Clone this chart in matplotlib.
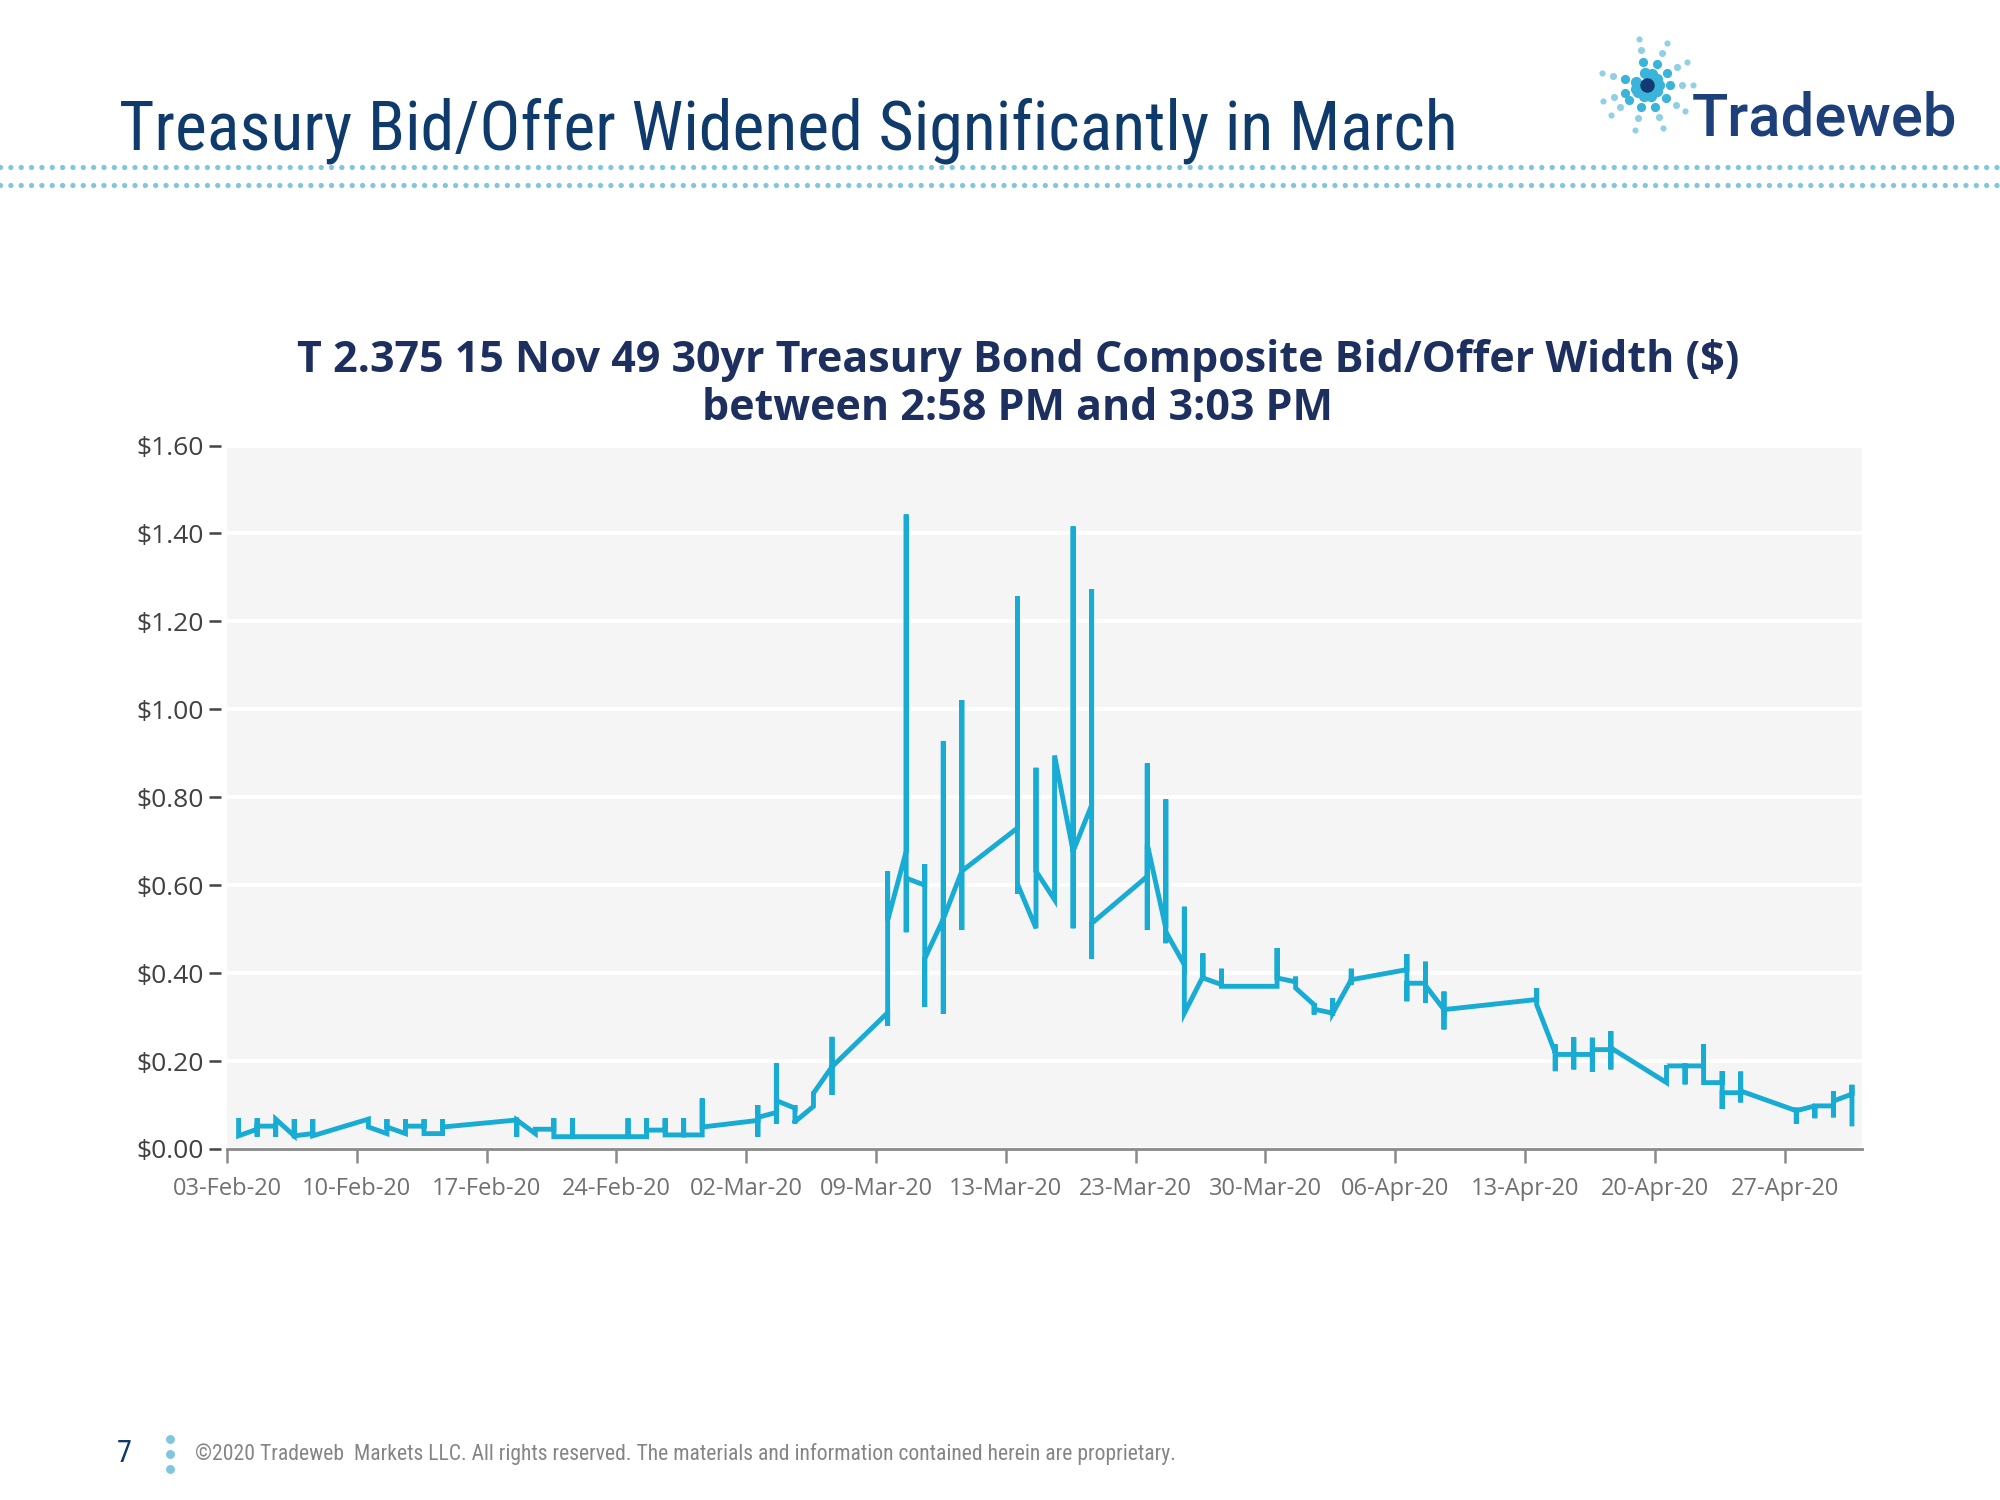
import matplotlib
matplotlib.use('Agg')
import matplotlib.pyplot as plt
import matplotlib.dates as mdates
from matplotlib.lines import Line2D
from matplotlib import font_manager
import numpy as np
import pandas as pd

# T 2.375 15 Nov 49 composite bid/offer width ($), quotes seen between 2:58 and 3:03 PM
# each trading day holds the widths in the order the line passes through them
feb_days = ['2020-02-03', '2020-02-04', '2020-02-05', '2020-02-06', '2020-02-07',
            '2020-02-10', '2020-02-11', '2020-02-12', '2020-02-13', '2020-02-14',
            '2020-02-18', '2020-02-19', '2020-02-20', '2020-02-21',
            '2020-02-24', '2020-02-25', '2020-02-26', '2020-02-27', '2020-02-28']
feb_widths = [[0.065, 0.03], [0.045, 0.07, 0.028, 0.052], [0.052, 0.028, 0.068],
              [0.03, 0.068, 0.03], [0.035, 0.068, 0.03],
              [0.068, 0.05], [0.035, 0.068, 0.05], [0.035, 0.068, 0.052],
              [0.052, 0.068, 0.035], [0.035, 0.068, 0.05],
              [0.066, 0.028, 0.066], [0.035, 0.045], [0.045, 0.07, 0.028],
              [0.028, 0.07, 0.028],
              [0.028, 0.07, 0.028], [0.028, 0.07, 0.043], [0.043, 0.07, 0.032],
              [0.032, 0.07, 0.032], [0.032, 0.115, 0.05]]

mar_days = ['2020-03-02', '2020-03-03', '2020-03-04', '2020-03-05', '2020-03-06',
            '2020-03-09', '2020-03-10', '2020-03-11', '2020-03-12', '2020-03-13',
            '2020-03-16', '2020-03-17', '2020-03-18', '2020-03-19', '2020-03-20',
            '2020-03-23', '2020-03-24', '2020-03-25', '2020-03-26', '2020-03-27',
            '2020-03-30', '2020-03-31']
mar_widths = [[0.065, 0.1, 0.028, 0.072], [0.083, 0.195, 0.058, 0.11],
              [0.093, 0.1, 0.058, 0.062], [0.097, 0.13, 0.127],
              [0.187, 0.255, 0.123, 0.187],
              [0.31, 0.28, 0.632, 0.52], [0.677, 1.443, 0.493, 0.616],
              [0.6, 0.648, 0.323, 0.433], [0.523, 0.928, 0.307, 0.523],
              [0.632, 1.021, 0.498, 0.632],
              [0.73, 1.257, 0.58, 0.603], [0.502, 0.867, 0.632], [0.567, 0.895],
              [0.677, 1.416, 0.502, 0.677], [0.782, 1.273, 0.433, 0.513],
              [0.62, 0.877, 0.498, 0.693], [0.502, 0.795, 0.468, 0.494],
              [0.419, 0.551, 0.309], [0.392, 0.445, 0.389], [0.374, 0.41, 0.37],
              [0.37, 0.457, 0.37, 0.389], [0.38, 0.392, 0.366]]

apr_days = ['2020-04-01', '2020-04-02', '2020-04-03',
            '2020-04-06', '2020-04-07', '2020-04-08',
            '2020-04-13', '2020-04-14', '2020-04-15', '2020-04-16', '2020-04-17',
            '2020-04-20', '2020-04-21', '2020-04-22', '2020-04-23', '2020-04-24',
            '2020-04-27', '2020-04-28', '2020-04-29', '2020-04-30']
apr_widths = [[0.328, 0.332, 0.306, 0.318], [0.309, 0.343, 0.309],
              [0.385, 0.41, 0.374, 0.385],
              [0.408, 0.443, 0.336, 0.377], [0.377, 0.426, 0.332, 0.372],
              [0.317, 0.358, 0.272, 0.317],
              [0.34, 0.366, 0.332, 0.328], [0.219, 0.238, 0.177, 0.215],
              [0.215, 0.254, 0.181, 0.215], [0.215, 0.253, 0.176, 0.226],
              [0.226, 0.268, 0.181, 0.23],
              [0.151, 0.191, 0.189], [0.189, 0.147, 0.189], [0.189, 0.238, 0.151],
              [0.151, 0.177, 0.091, 0.128], [0.128, 0.176, 0.106, 0.132],
              [0.087, 0.094, 0.057, 0.087], [0.098, 0.1, 0.07, 0.098],
              [0.098, 0.131, 0.072, 0.109], [0.125, 0.146, 0.057]]

tick_days = ['2020-02-03', '2020-02-10', '2020-02-17', '2020-02-24', '2020-03-02',
             '2020-03-09', '2020-03-16', '2020-03-23', '2020-03-30', '2020-04-06',
             '2020-04-13', '2020-04-20', '2020-04-27']
tick_labels = ['03-Feb-20', '10-Feb-20', '17-Feb-20', '24-Feb-20', '02-Mar-20',
               '09-Mar-20', '13-Mar-20', '23-Mar-20', '30-Mar-20', '06-Apr-20',
               '13-Apr-20', '20-Apr-20', '27-Apr-20']
y_ticks = [0.0, 0.2, 0.4, 0.6, 0.8, 1.0, 1.2, 1.4, 1.6]


def pick_font(*names):
    have = {f.name for f in font_manager.fontManager.ttflist}
    for n in names:
        if n in have:
            return n
    return 'DejaVu Sans'


narrow = pick_font('Liberation Sans Narrow', 'Roboto Condensed', 'Liberation Sans')
body = pick_font('Open Sans', 'Noto Sans', 'DejaVu Sans')
logo_font = pick_font('Roboto', 'Open Sans', 'DejaVu Sans')

NAVY = '#0e3a6c'
LINE = '#18abd3'
DOTS = '#7fc6de'

# build the path: every quote of one day sits at the 3 PM snapshot of that day
xs, ys = [], []
for d, vals in zip(feb_days + mar_days + apr_days, feb_widths + mar_widths + apr_widths):
    t = mdates.date2num(pd.Timestamp(d) + pd.Timedelta(hours=15))
    xs += [t] * len(vals)
    ys += vals

fig = plt.figure(figsize=(10, 7.5), dpi=200)
fig.patch.set_facecolor('white')

# slide header
fig.text(0.0595, 0.9, 'Treasury Bid/Offer Widened Significantly in March',
         family=narrow, fontsize=24.5, color=NAVY, va='baseline', ha='left')
for yy in (0.8887, 0.8767):
    fig.add_artist(Line2D([0.0, 1.0], [yy, yy], transform=fig.transFigure,
                          color=DOTS, lw=1.9, linestyle=(0, (0.01, 1.95)),
                          dash_capstyle='round'))

# logo
fig.text(0.846, 0.9095, 'Tradeweb', family=logo_font, fontsize=21.5,
         fontweight='medium', color='#1d3f7a', va='baseline', ha='left')
cx, cy = 0.8235, 0.9435
for ang in [100, 65, 30, 0, -35, -70, -105, -140, 165, 200]:
    a = np.deg2rad(ang)
    for k in range(1, 5):
        r = 0.0058 * k
        fig.add_artist(Line2D([cx + r * np.cos(a)], [cy + r * np.sin(a) * 1.333],
                              transform=fig.transFigure, marker='o', lw=0,
                              markersize=max(1.2, 3.8 - 0.75 * k),
                              color='#3ab4da' if k < 3 else '#8fd0e4'))
fig.add_artist(Line2D([cx], [cy], transform=fig.transFigure, marker='o', lw=0,
                      markersize=4.2, color='#133a72'))

# chart title
fig.text(0.509, 0.76, 'T 2.375 15 Nov 49 30yr Treasury Bond Composite Bid/Offer Width ($)',
         family=body, fontsize=15.5, fontweight='bold', color='#1c2f5e',
         ha='center', va='center')
fig.text(0.509, 0.728, 'between 2:58 PM and 3:03 PM',
         family=body, fontsize=15.5, fontweight='bold', color='#1c2f5e',
         ha='center', va='center')

ax = fig.add_axes([0.1135, 0.234, 0.8175, 0.469])
ax.set_facecolor('#f5f5f5')
ax.plot(xs, ys, color=LINE, lw=1.75, solid_joinstyle='miter')

ax.set_ylim(0, 1.6)
ax.set_xlim(mdates.date2num(pd.Timestamp('2020-02-03')),
            mdates.date2num(pd.Timestamp('2020-05-01 04:00')))
ax.set_yticks(y_ticks)
ax.set_yticklabels(['${:.2f}'.format(v) for v in y_ticks])
ax.set_xticks([mdates.date2num(pd.Timestamp(d)) for d in tick_days])
ax.set_xticklabels(tick_labels)

ax.grid(axis='y', color='white', lw=1.3)
ax.set_axisbelow(True)
for s in ['top', 'right', 'left']:
    ax.spines[s].set_visible(False)
ax.spines['bottom'].set_color('#8a8a8a')
ax.spines['bottom'].set_linewidth(1.0)
ax.spines['left'].set_position(('outward', 2))

ax.tick_params(axis='y', length=4.5, width=0.9, color='#444444', pad=2,
               labelsize=9.5, labelcolor='#404040')
ax.tick_params(axis='x', length=5, width=0.9, color='#8a8a8a', pad=5,
               labelsize=8.5, labelcolor='#707070')
for lab in ax.get_xticklabels() + ax.get_yticklabels():
    lab.set_family(body)

# footer
fig.text(0.062, 0.0307, '7', family=narrow, fontsize=11, color=NAVY,
         ha='center', va='center')
for yy in (0.0407, 0.0307, 0.0207):
    fig.add_artist(Line2D([0.085], [yy], transform=fig.transFigure, marker='o',
                          lw=0, markersize=2.2, color=DOTS))
fig.text(0.0975, 0.0307,
         '\u00a92020 Tradeweb  Markets LLC. All rights reserved. The materials and '
         'information contained herein are proprietary.',
         family=narrow, fontsize=7.8, color='#858585', ha='left', va='center')

fig.savefig('out.png', dpi=200, facecolor='white')
